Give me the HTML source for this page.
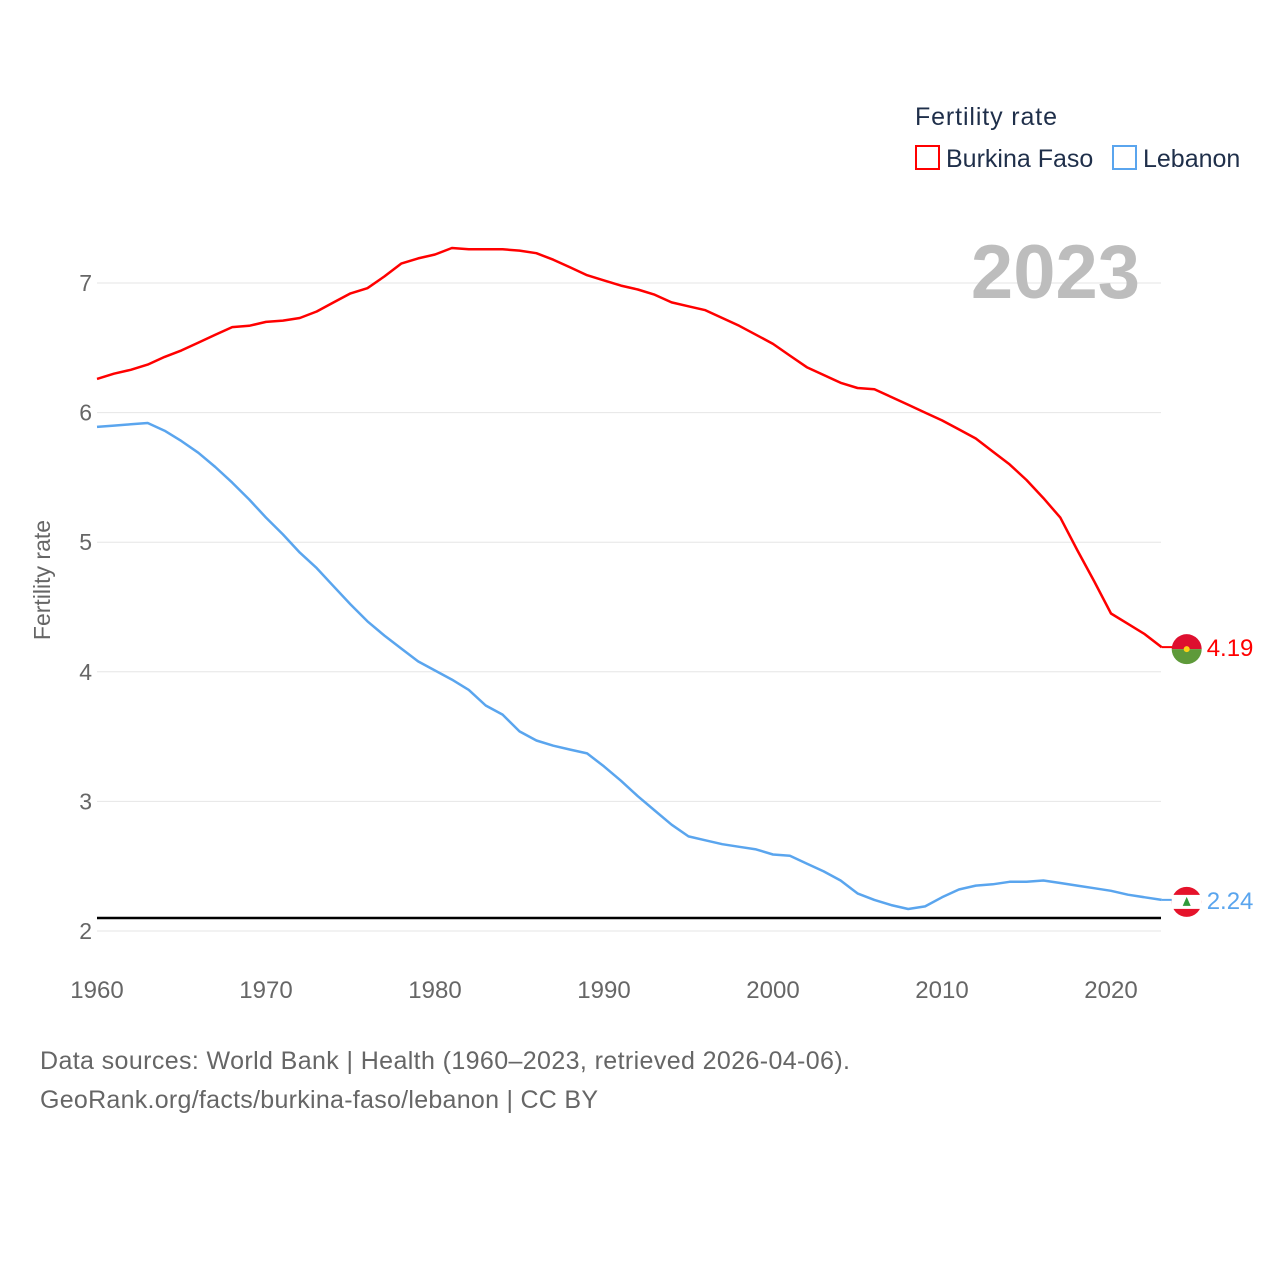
<!DOCTYPE html>
<html><head><meta charset="utf-8"><style>
html,body{margin:0;padding:0;background:#fff;}
svg{display:block;font-family:"Liberation Sans",sans-serif;}
</style></head><body>
<svg id="chart" width="1280" height="1280" viewBox="0 0 1280 1280">
<g id="grid"></g>
<g id="series"></g>
<text x="1140" y="298" text-anchor="end" font-size="76" font-weight="bold" fill="#bdbdbd">2023</text>
<text x="915" y="125" font-size="25" fill="#1f2f4a" textLength="142">Fertility rate</text>
<g>
<rect x="916" y="146" width="23" height="23" fill="none" stroke="#f00" stroke-width="2"/>
<text x="946" y="167" font-size="25" fill="#1f2f4a">Burkina Faso</text></g>
<g>
<rect x="1113" y="146" width="23" height="23" fill="none" stroke="#5aa5ee" stroke-width="2"/>
<text x="1143" y="167" font-size="25" fill="#1f2f4a">Lebanon</text></g>
<text transform="translate(50,580) rotate(-90)" text-anchor="middle" font-size="23" fill="#666">Fertility rate</text>
<text x="40" y="1069" font-size="25" fill="#666" textLength="810">Data sources: World Bank | Health (1960–2023, retrieved 2026-04-06).</text>
<text x="40" y="1108" font-size="25" fill="#666" textLength="558">GeoRank.org/facts/burkina-faso/lebanon | CC BY</text>
</svg>
<script>
const years=[];for(let y=1960;y<=2023;y++)years.push(y);
const burkinaFaso=[6.26,6.30,6.33,6.37,6.43,6.48,6.54,6.60,6.66,6.67,6.70,6.71,6.73,6.78,6.85,6.92,6.96,7.05,7.15,7.19,7.22,7.27,7.26,7.26,7.26,7.25,7.23,7.18,7.12,7.06,7.02,6.98,6.95,6.91,6.85,6.82,6.79,6.73,6.67,6.60,6.53,6.44,6.35,6.29,6.23,6.19,6.18,6.12,6.06,6.00,5.94,5.87,5.80,5.70,5.60,5.48,5.34,5.19,4.94,4.70,4.45,4.37,4.29,4.19];
const lebanon=[5.89,5.90,5.91,5.92,5.86,5.78,5.69,5.58,5.46,5.33,5.19,5.06,4.92,4.80,4.66,4.52,4.39,4.28,4.18,4.08,4.01,3.94,3.86,3.74,3.67,3.54,3.47,3.43,3.40,3.37,3.27,3.16,3.04,2.93,2.82,2.73,2.70,2.67,2.65,2.63,2.59,2.58,2.52,2.46,2.39,2.29,2.24,2.20,2.17,2.19,2.26,2.32,2.35,2.36,2.38,2.38,2.39,2.37,2.35,2.33,2.31,2.28,2.26,2.24];
const yTicks=[2,3,4,5,6,7];
const xTicks=[1960,1970,1980,1990,2000,2010,2020];
const replacementRate=[2.1];
const NS="http://www.w3.org/2000/svg";
const xS=v=>97+(v-1960)*(1111-97)/60;
const yS=v=>931-(v-2)*129.6;
function mk(t,a,p){const e=document.createElementNS(NS,t);for(const k in a)e.setAttribute(k,a[k]);p.appendChild(e);return e;}
const grid=document.getElementById('grid'),ser=document.getElementById('series');
yTicks.forEach(v=>{
 const l=mk('line',{x1:97,x2:1161,y1:yS(v),y2:yS(v),stroke:'#e6e6e6','stroke-width':1},grid);
 
 
 const t=mk('text',{x:92,y:yS(v)+8,'text-anchor':'end','font-size':23,fill:'#666'},grid);t.textContent=v;
 
 
});
xTicks.forEach(v=>{
 const t=mk('text',{x:xS(v),y:998,'text-anchor':'middle','font-size':24,fill:'#666'},grid);t.textContent=v;
 
 
});
const rl=mk('line',{x1:97,x2:1161,y1:yS(replacementRate[0]),y2:yS(replacementRate[0]),stroke:'#000','stroke-width':2.5},ser);


function line(vals,color,name){
 const d=vals.map((v,i)=>(i?'L':'M')+xS(years[i]).toFixed(1)+','+yS(v).toFixed(1)).join('');
 const p=mk('path',{d:d,fill:'none',stroke:color,'stroke-width':2.5,'stroke-linejoin':'round'},ser);
 
 
 const last=vals[vals.length-1],lx=xS(years[years.length-1]),ly=yS(last);
 mk('line',{x1:lx,x2:lx+25,y1:ly,y2:ly,stroke:color,'stroke-width':2},ser);
 const g=mk('g',{},ser);
 
 
 const cx=lx+25,cy=ly+2;
 if(name==='burkina-faso'){
  mk('path',{d:`M${cx-15},${cy} A15,15 0 0 1 ${cx+15},${cy} Z`,fill:'#de0f2f'},g);
  mk('path',{d:`M${cx-15},${cy} A15,15 0 0 0 ${cx+15},${cy} Z`,fill:'#5e9a3a'},g);
  mk('circle',{cx:cx,cy:cy,r:3,fill:'#fcd116'},g);
 }else{
  mk('circle',{cx:cx,cy:cy,r:15,fill:'#e5132b'},g);
  mk('rect',{x:cx-15,y:cy-7,width:30,height:14,fill:'#fff'},g);
  mk('path',{d:`M${cx},${cy-5} L${cx+4},${cy+4} L${cx-4},${cy+4} Z`,fill:'#2e9a3a'},g);
 }
 const t=mk('text',{x:cx+20,y:ly+9,'font-size':24,fill:color},ser);t.textContent=last.toFixed(2);
 
 
}
line(burkinaFaso,'#f00','burkina-faso');
line(lebanon,'#5aa5ee','lebanon');
</script>
</body></html>
